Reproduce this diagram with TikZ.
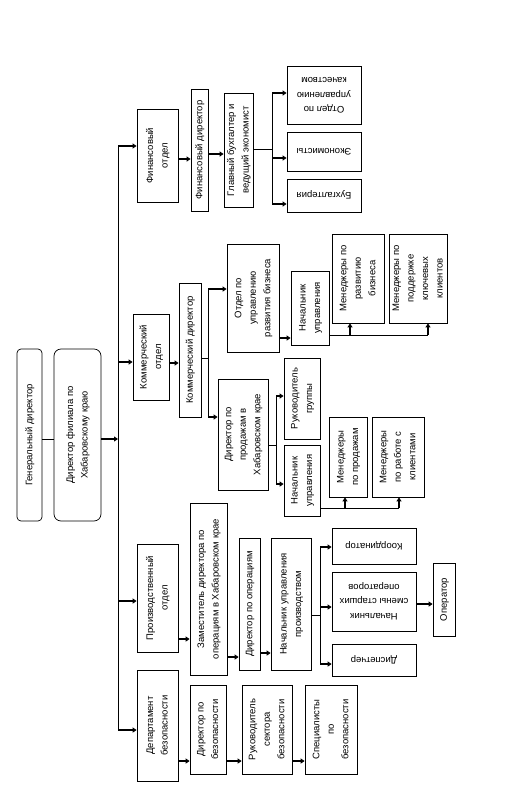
\documentclass[tikz,border=0pt]{standalone}
\usepackage{fontspec}
\setmainfont{Liberation Sans}
\usepackage{graphicx}
\usetikzlibrary{arrows.meta}
% text turned to read bottom-up / upside down
\newcommand{\vtxt}[1]{\rotatebox{90}{\begin{tabular}{@{}c@{}}#1\end{tabular}}}
\newcommand{\utxt}[1]{\rotatebox{180}{\begin{tabular}{@{}c@{}}#1\end{tabular}}}
\begin{document}
\begin{tikzpicture}[x=1pt, y=-1pt,
                    box/.style={draw, line width=0.7pt, inner sep=0pt, font=\fontsize{9.5}{14.5}\selectfont},
                    arr/.style={-{Triangle[length=4pt,width=5pt]}, line width=1.4pt},
                    ln/.style={line width=0.7pt}]
\useasboundingbox (0,0) rectangle (523,809);
% head
\node[box, rounded corners=4pt, minimum width=25pt, minimum height=172pt] (gen) at (29.5,435) {\vtxt{Генеральный директор}};
\node[box, rounded corners=7pt, minimum width=47pt, minimum height=172pt] (fil) at (77.5,435) {\vtxt{Директор филиала по\\Хабаровскому краю}};
\coordinate (top) at (118,146);
\coordinate (bot) at (118,730);
% finance
\node[box, minimum width=41pt, minimum height=93pt] (fin) at (157.5,155.5) {\vtxt{Финансовый\\отдел}};
\node[box, minimum width=17pt, minimum height=122pt] (fd) at (199.5,150) {\vtxt{Финансовый директор}};
\node[box, minimum width=29pt, minimum height=114pt] (gb) at (238.5,150) {\vtxt{Главный бухгалтер и\\ведущий экономист}};
\node[box, minimum width=74pt, minimum height=58pt] (qual) at (324,95) {\utxt{Отдел по\\управлению\\качеством}};
\node[box, minimum width=74pt, minimum height=39pt] (econ) at (324,151.5) {\utxt{Экономисты}};
\node[box, minimum width=74pt, minimum height=33pt] (buh) at (324,195.5) {\utxt{Бухгалтерия}};
% commerce
\node[box, minimum width=36pt, minimum height=86pt] (com) at (151,357) {\vtxt{Коммерческий\\отдел}};
\node[box, minimum width=22pt, minimum height=134pt] (cd) at (190,350) {\vtxt{Коммерческий директор}};
\node[box, minimum width=52pt, minimum height=108pt] (obiz) at (253,298) {\vtxt{Отдел по\\управлению\\развития бизнеса}};
\node[box, minimum width=38pt, minimum height=74pt] (nu1) at (310,308) {\vtxt{Начальник\\управления}};
\node[box, minimum width=52pt, minimum height=89pt] (mrb) at (358,278.5) {\vtxt{Менеджеры по\\развитию\\бизнеса}};
\node[box, minimum width=50pt, minimum height=89pt] (mpk) at (418,278.5) {\vtxt{Менеджеры по\\поддержке\\ключевых\\клиентов}};
\node[box, minimum width=50pt, minimum height=111pt] (dpk) at (243,434.5) {\vtxt{Директор по\\продажам в\\Хабаровском крае}};
\node[box, minimum width=36pt, minimum height=81pt] (rg) at (302,398.5) {\vtxt{Руководитель\\группы}};
\node[box, minimum width=36pt, minimum height=71pt] (nu2) at (302,480.5) {\vtxt{Начальник\\управления}};
\node[box, minimum width=38pt, minimum height=80pt] (mp) at (348,457) {\vtxt{Менеджеры\\по продажам}};
\node[box, minimum width=52pt, minimum height=80pt] (mrk) at (398,457) {\vtxt{Менеджеры\\по работе с\\клиентами}};
% production
\node[box, minimum width=41pt, minimum height=108pt] (prod) at (157.5,598) {\vtxt{Производственный\\отдел}};
\node[box, minimum width=37pt, minimum height=172pt] (zam) at (208.5,589) {\vtxt{Заместитель директора по\\операциям в Хабаровском крае}};
\node[box, minimum width=21pt, minimum height=132pt] (dop) at (249.5,604) {\vtxt{Директор по операциям}};
\node[box, minimum width=40pt, minimum height=132pt] (nup) at (291,604) {\vtxt{Начальник управления\\производством}};
\node[box, minimum width=84pt, minimum height=36pt] (koord) at (374,546) {\utxt{Координатор}};
\node[box, minimum width=84pt, minimum height=59pt] (nsm) at (374,601.5) {\utxt{Начальник\\смены старших\\операторов}};
\node[box, minimum width=84pt, minimum height=32pt] (disp) at (374,660) {\utxt{Диспетчер}};
\node[box, minimum width=22pt, minimum height=73pt] (oper) at (444,599.5) {\vtxt{Оператор}};
% security
\node[box, minimum width=41pt, minimum height=111pt] (dep) at (157.5,725.5) {\vtxt{Департамент\\безопасности}};
\node[box, minimum width=36pt, minimum height=89pt] (db) at (208,729.5) {\vtxt{Директор по\\безопасности}};
\node[box, minimum width=50pt, minimum height=89pt] (rs) at (267,729.5) {\vtxt{Руководитель\\сектора\\безопасности}};
\node[box, minimum width=52pt, minimum height=89pt] (spec) at (331,729.5) {\vtxt{Специалисты\\по\\безопасности}};
% connectors
\draw[ln] (gen.east |- 0,439) -- (fil.west |- 0,439);
\draw[arr] (fil.east |- 0,439) -- (top |- 0,439);
\draw[ln] (top) -- (bot);
\draw[arr] (top) -- (top -| fin.west);
\draw[arr] (top |- 0,362) -- (com.west |- 0,362);
\draw[arr] (top |- 0,601) -- (prod.west |- 0,601);
\draw[arr] (bot) -- (bot -| dep.west);
\draw[arr] (fin.east |- 0,159) -- (fd.west |- 0,159);
\draw[arr] (fd.east |- 0,154) -- (gb.west |- 0,154);
\draw[ln] (gb.east |- 0,149) -- (272,149);
\draw[ln] (272,93) -- (272,204);
\draw[arr] (272,93) -- (qual.west |- 0,93);
\draw[arr] (272,158) -- (econ.west |- 0,158);
\draw[arr] (272,204) -- (buh.west |- 0,204);
\draw[arr] (com.east |- 0,363) -- (cd.west |- 0,363);
\draw[ln] (cd.east |- 0,358) -- (208,358);
\draw[ln] (208,289) -- (208,417);
\draw[arr] (208,289) -- (obiz.west |- 0,289);
\draw[arr] (208,417) -- (dpk.west |- 0,417);
\draw[arr] (obiz.east |- 0,338) -- (nu1.west |- 0,338);
\draw[ln] (nu1.east |- 0,335) -- (428,335);
\draw[arr] (350,335) -- (350,0 |- mrb.south);
\draw[arr] (428,335) -- (428,0 |- mpk.south);
\draw[ln] (dpk.east |- 0,445) -- (276,445);
\draw[ln] (276,396) -- (276,484);
\draw[arr] (276,396) -- (rg.west |- 0,396);
\draw[arr] (276,484) -- (nu2.west |- 0,484);
\draw[ln] (nu2.east |- 0,508) -- (399,508);
\draw[arr] (345,508) -- (345,0 |- mp.south);
\draw[arr] (399,508) -- (399,0 |- mrk.south);
\draw[arr] (prod.east |- 0,639) -- (zam.west |- 0,639);
\draw[arr] (zam.east |- 0,657) -- (dop.west |- 0,657);
\draw[arr] (dop.east |- 0,653) -- (nup.west |- 0,653);
\draw[ln] (nup.east |- 0,615) -- (320,615);
\draw[ln] (320,547) -- (320,664);
\draw[arr] (320,547) -- (koord.west |- 0,547);
\draw[arr] (320,607) -- (nsm.west |- 0,607);
\draw[arr] (320,664) -- (disp.west |- 0,664);
\draw[arr] (nsm.east |- 0,604) -- (oper.west |- 0,604);
\draw[arr] (dep.east |- 0,761) -- (db.west |- 0,761);
\draw[arr] (db.east |- 0,761) -- (rs.west |- 0,761);
\draw[arr] (rs.east |- 0,761) -- (spec.west |- 0,761);
\end{tikzpicture}
\end{document}
